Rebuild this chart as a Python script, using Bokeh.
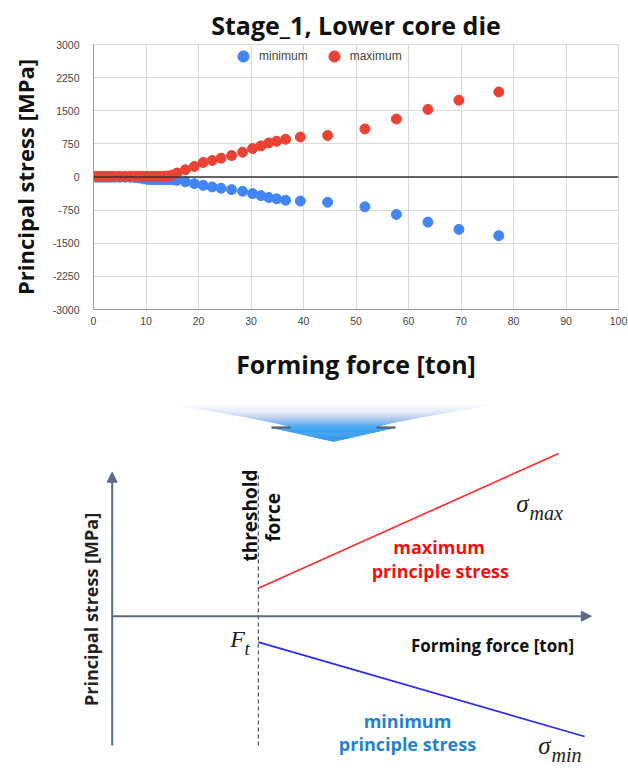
import numpy as np
from bokeh.plotting import figure
from bokeh.models import (Range1d, FixedTicker, Span, Label, Arrow, NormalHead, Legend,
                          LinearAxis)
from bokeh.layouts import column
from bokeh.embed import file_html
from bokeh.resources import INLINE

# ---------------- data ----------------
force = [0, 0.8, 1.6, 2.4, 3.2, 4.0, 5.0, 6.0, 7.0, 7.9, 8.7, 9.5, 10.3, 11.1,
         11.9, 12.7, 13.5, 14.3, 15.1, 15.9, 17.5, 19.2, 20.9, 22.6, 24.3, 26.3,
         28.4, 30.3, 31.9, 33.4, 34.9, 36.6, 39.4, 44.6, 51.7, 57.7, 63.7, 69.6, 77.2]
sigma_max = [15, 15, 15, 15, 15, 15, 15, 15, 15, 15, 15, 15, 15, 15,
             15, 15, 20, 25, 45, 90, 164, 239, 329, 374, 427, 486,
             562, 644, 704, 772, 810, 855, 905, 940, 1087, 1312, 1530, 1739, 1926]
sigma_min = [-5, -5, -5, -5, -5, -5, -5, -5, -5, -10, -20, -40, -55, -60,
             -60, -60, -60, -60, -65, -75, -110, -151, -189, -225, -256, -286,
             -324, -376, -421, -466, -495, -526, -545, -571, -675, -848, -1021, -1186, -1328]
x_ticks = [0, 10, 20, 30, 40, 50, 60, 70, 80, 90, 100]
y_ticks = [-3000, -2250, -1500, -750, 0, 750, 1500, 2250, 3000]
y_tick_labels = ["-3000", "-2250", "-1500", "-750", "0", "750", "1500", "2250", "3000"]
series_names = ["minimum", "maximum"]

# schematic (conceptual units: force 0..100, stress -90..100)
sch_x_axis = ([0, 100], [0, 0])
sch_y_axis = ([0, 0], [-89.8, 100])
F_t = 30.5
max_line = ([F_t, 93.2], [19.4, 113.0])
min_line = ([F_t, 98.6], [-18.0, -83.5])

FONT = "Open Sans"
BLUE = "#4285F4"
RED = "#EA4335"
BL, BR = 93, 10   # left / right borders shared by all panels

# ---------------- top: scatter chart ----------------
p1 = figure(width=628, height=383, x_range=Range1d(0, 100), y_range=Range1d(-3000, 3000),
            output_backend="svg", toolbar_location=None, title="Stage_1, Lower core die",
            min_border_left=BL, min_border_right=BR, min_border_top=44, min_border_bottom=73)
p1.title.align = "center"
p1.title.text_font = FONT
p1.title.text_font_size = "25px"
p1.title.text_font_style = "bold"
p1.title.text_color = "#111111"
p1.title.standoff = 6

p1.xaxis.ticker = FixedTicker(ticks=x_ticks)
p1.yaxis.ticker = FixedTicker(ticks=y_ticks)
p1.yaxis.major_label_overrides = dict(zip(y_ticks, y_tick_labels))
p1.xgrid.ticker = FixedTicker(ticks=x_ticks)
p1.ygrid.ticker = FixedTicker(ticks=y_ticks)
for g in (p1.xgrid, p1.ygrid):
    g.grid_line_color = "#d9d9d9"
    g.grid_line_width = 1
p1.outline_line_color = "#d9d9d9"

for ax in (p1.xaxis, p1.yaxis):
    ax.major_tick_line_color = None
    ax.minor_tick_line_color = None
    ax.major_tick_out = 0
    ax.major_tick_in = 0
    ax.axis_line_color = "#9a9a9a"
    ax.major_label_text_font = "Liberation Sans"
    ax.major_label_text_font_size = "10.5px"
    ax.major_label_text_color = "#444444"
    ax.axis_label_text_font = FONT
    ax.axis_label_text_font_style = "bold"
    ax.axis_label_text_color = "#111111"

p1.xaxis.axis_label = "Forming force [ton]"
p1.xaxis.axis_label_text_font_size = "25px"
p1.xaxis.major_label_standoff = 7
p1.xaxis.axis_label_standoff = 19
p1.yaxis.axis_label = "Principal stress [MPa]"
p1.yaxis.axis_label_text_font_size = "22px"
p1.yaxis.major_label_standoff = 14
p1.yaxis.axis_label_standoff = 10

p1.add_layout(Span(location=0, dimension="width", line_color="#333333", line_width=1.4))

rb = p1.scatter(force, sigma_min, size=10, fill_color=BLUE, line_color=BLUE)
rr = p1.scatter(force, sigma_max, size=10, fill_color=RED, line_color=RED)

legend = Legend(items=[(series_names[0], [rb]), (series_names[1], [rr])],
                orientation="horizontal", location=(136, 239),
                border_line_color=None, background_fill_alpha=0,
                label_text_font="Liberation Sans", label_text_font_size="12px",
                label_text_color="#444444", glyph_width=28, glyph_height=28,
                label_standoff=2, spacing=12, padding=0, margin=0)
p1.add_layout(legend)

# ---------------- middle: decorative gradient arrow ----------------
pa = figure(width=628, height=67, x_range=Range1d(BL, 628 - BR), y_range=Range1d(450, 383),
            output_backend="svg", toolbar_location=None, min_border=0,
            min_border_left=BL, min_border_right=BR,
            x_axis_type=None, y_axis_type=None)
pa.grid.visible = False
pa.outline_line_color = None

def hex2rgb(h):
    h = h.lstrip("#")
    return np.array([int(h[i:i + 2], 16) for i in (0, 2, 4)], dtype=float)

def interp_color(stops, t):
    for (t0, c0), (t1, c1) in zip(stops[:-1], stops[1:]):
        if t0 <= t <= t1:
            f = (t - t0) / (t1 - t0) if t1 > t0 else 0
            c = hex2rgb(c0) * (1 - f) + hex2rgb(c1) * f
            return "#%02x%02x%02x" % tuple(int(round(v)) for v in c)
    return stops[-1][1]

cx, y_top, y_neck, y_tip = 333.0, 405.0, 427.0, 441.0
w_top, w_neck, w_sh = 156.0, 41.0, 62.0
stops_body = [(0, "#fafbfe"), (0.3, "#e4ecf8"), (0.55, "#bfd2f0"), (0.8, "#80b7f0"), (1.0, "#45a6f2")]
stops_head = [(0, "#40a4f2"), (1.0, "#3399ea")]
xs, ys, cols = [], [], []
N = 26
for i in range(N):
    t0, t1 = i / N, (i + 1) / N
    h0 = w_neck + (w_top - w_neck) * (1 - t0) ** 1.2
    h1 = w_neck + (w_top - w_neck) * (1 - t1) ** 1.2
    y0 = y_top + (y_neck - y_top) * t0
    y1 = y_top + (y_neck - y_top) * t1
    xs.append([cx - h0, cx + h0, cx + h1, cx - h1])
    ys.append([y0, y0, y1, y1])
    cols.append(interp_color(stops_body, (t0 + t1) / 2))
M = 12
for i in range(M):
    t0, t1 = i / M, (i + 1) / M
    h0, h1 = w_sh * (1 - t0), w_sh * (1 - t1)
    y0 = y_neck + (y_tip - y_neck) * t0
    y1 = y_neck + (y_tip - y_neck) * t1
    xs.append([cx - h0, cx + h0, cx + h1, cx - h1])
    ys.append([y0, y0, y1, y1])
    cols.append(interp_color(stops_head, (t0 + t1) / 2))
pa.patches(xs, ys, fill_color=cols, line_color=cols, line_width=0.6)
pa.segment(x0=[cx - w_sh, cx + w_neck + 2], y0=[y_neck, y_neck],
           x1=[cx - w_neck - 2, cx + w_sh], y1=[y_neck, y_neck],
           line_color="#4a4f57", line_width=2.5, line_alpha=0.75)

# ---------------- bottom: schematic ----------------
def ux(px):
    return (px - 111.7) / 4.791

def uy(py):
    return (615.7 - py) / 1.44

p2 = figure(width=628, height=318, x_range=Range1d(ux(BL), ux(628 - BR)),
            y_range=Range1d(uy(768), uy(450)),
            output_backend="svg", toolbar_location=None, min_border=0,
            min_border_left=BL, min_border_right=BR,
            x_axis_type=None, y_axis_type=None)
p2.grid.visible = False
p2.outline_line_color = None

# the schematic's y-axis title lives in a tick-less left axis (border area)
yax = LinearAxis(ticker=FixedTicker(ticks=[]), axis_line_color=None,
                 major_tick_line_color=None, minor_tick_line_color=None,
                 major_tick_out=0, major_tick_in=0,
                 axis_label="Principal stress [MPa]", axis_label_standoff=-9,
                 axis_label_text_font=FONT, axis_label_text_font_size="18px",
                 axis_label_text_font_style="bold", axis_label_text_color="#222222")
p2.add_layout(yax, "left")

AX = "#5a6a80"
p2.add_layout(Arrow(end=NormalHead(size=10, fill_color=AX, line_color=AX),
                    x_start=sch_x_axis[0][0], y_start=sch_x_axis[1][0],
                    x_end=sch_x_axis[0][1], y_end=sch_x_axis[1][1],
                    line_color=AX, line_width=2))
p2.add_layout(Arrow(end=NormalHead(size=10, fill_color=AX, line_color=AX),
                    x_start=sch_y_axis[0][0], y_start=sch_y_axis[1][0],
                    x_end=sch_y_axis[0][1], y_end=sch_y_axis[1][1],
                    line_color=AX, line_width=2))
p2.line([F_t, F_t], [sch_y_axis[1][0], sch_y_axis[1][1]], line_color="#44546a",
        line_width=1.2, line_dash="4 3")
p2.line(max_line[0], max_line[1], line_color="#ff2a2a", line_width=1.6)
p2.line(min_line[0], min_line[1], line_color="#2a2aee", line_width=1.6)

def lab(x, y, text, size, color="#111111", style="bold", font=FONT, align="center",
        baseline="middle", angle=0):
    p2.add_layout(Label(x=x, y=y, text=text, text_font=font, text_font_size=size,
                        text_color=color, text_font_style=style, text_align=align,
                        text_baseline=baseline, angle=angle))

lab(ux(249), uy(515), "threshold", "19px", angle=np.pi / 2)
lab(ux(272), uy(517), "force", "19px", angle=np.pi / 2)
lab(ux(438.6), uy(546), "maximum", "18px", color="#ee1111")
lab(ux(439.8), uy(570), "principle stress", "18px", color="#ee1111")
lab(ux(407), uy(720), "minimum", "18px", color="#1f82d2")
lab(ux(407), uy(743), "principle stress", "18px", color="#1f82d2")
lab(ux(492), uy(645), "Forming force [ton]", "17px")
SERIF = "Liberation Serif"
lab(ux(522), uy(503), "σ", "25px", style="italic", font=SERIF, color="#222222")
lab(ux(529), uy(512), "max", "20px", style="italic", font=SERIF, color="#222222",
    align="left", baseline="alphabetic")
lab(ux(237), uy(638), "F", "24px", style="italic", font=SERIF, color="#222222")
lab(ux(244), uy(648), "t", "19px", style="italic", font=SERIF, color="#222222",
    align="left", baseline="alphabetic")
lab(ux(544), uy(745), "σ", "25px", style="italic", font=SERIF, color="#222222")
lab(ux(551), uy(754), "min", "20px", style="italic", font=SERIF, color="#222222",
    align="left", baseline="alphabetic")

layout = column(p1, pa, p2, spacing=0)
open("out.html", "w").write(file_html(layout, INLINE))
